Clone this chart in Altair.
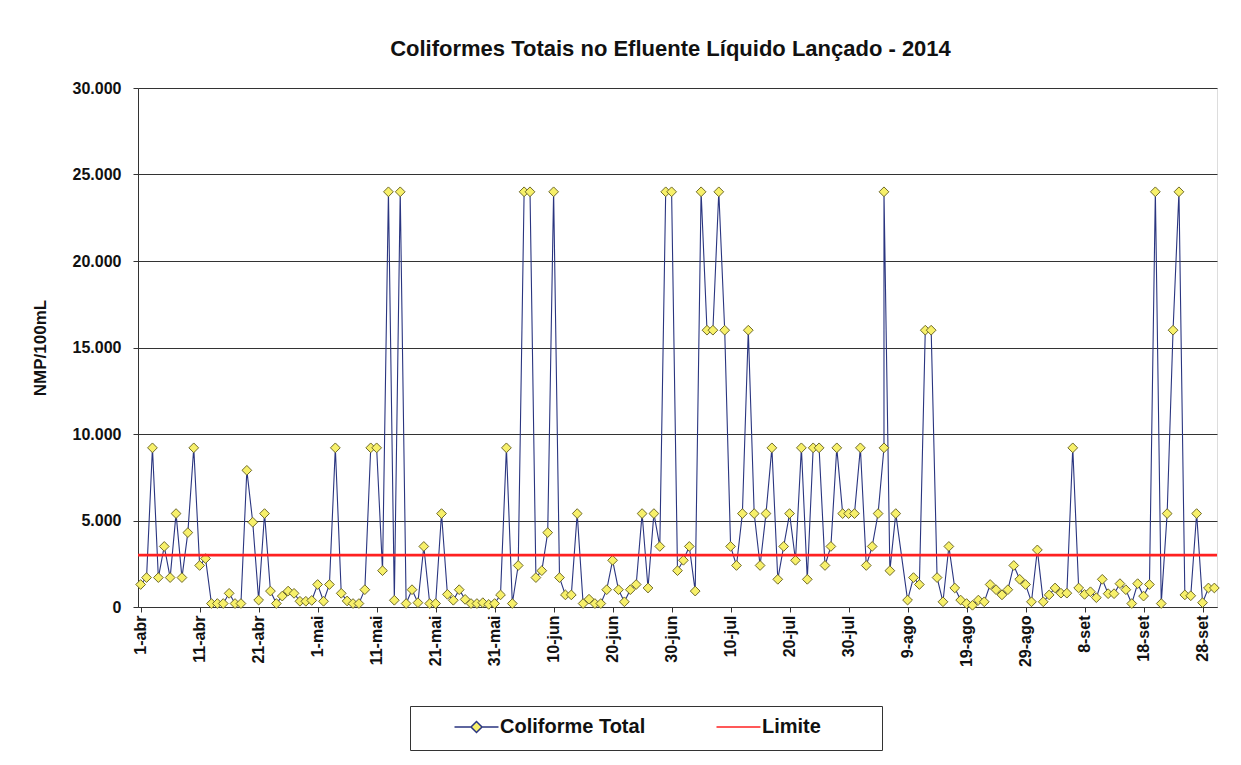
import altair as alt
import pandas as pd

# ---- dados (NMP/100mL), um valor por amostra ----
dias = list(range(1, 128)) + [127, 128, 129] + list(range(131, 184))
valores = [
    1300, 1700, 9200, 1700, 3500, 1700, 5400, 1700, 4300, 9200,
    2400, 2800, 200, 200, 200, 790, 200, 200, 7900, 4900,
    400, 5400, 920, 200, 630, 920, 790, 330, 330, 380,
    1300, 330, 1300, 9200, 790, 350, 200, 200, 1000, 9200,
    9200, 2100, 24000, 390, 24000, 200, 1000, 250, 3500, 200,
    200, 5400, 730, 390, 1000, 440, 200, 200, 250, 150,
    200, 700, 9200, 200, 2400, 24000, 24000, 1700, 2100, 4300,
    24000, 1700, 700, 700, 5400, 200, 450, 200, 200, 1000,
    2700, 1000, 300, 1000, 1300, 5400, 1100, 5400, 3500, 24000,
    24000, 2100, 2700, 3500, 920, 24000, 16000, 16000, 24000, 16000,
    3500, 2400, 5400, 16000, 5400, 2400, 5400, 9200, 1600, 3500,
    5400, 2700, 9200, 1600, 9200, 9200, 2400, 3500, 9200, 5400,
    5400, 5400, 9200, 2400, 3500, 5400,
    9200, 24000, 2100, 5400,
    400, 1700, 1300, 16000, 16000, 1700, 300, 3500, 1100, 400,
    200, 100, 400, 300, 1300, 1000, 700, 1000, 2400, 1600,
    1300, 300, 3300, 300, 700, 1100, 800, 800, 9200, 1100,
    730, 880, 540, 1600, 770, 770, 1350, 1000, 200, 1350,
    630, 1300, 24000, 200, 5400, 16000, 24000, 700, 650, 5400,
    250, 1100, 1100,
]
limite = [3000]
series = ["Coliforme Total", "Limite"]
rotulos_x = ["1-abr", "11-abr", "21-abr", "1-mai", "11-mai", "21-mai", "31-mai",
             "10-jun", "20-jun", "30-jun", "10-jul", "20-jul", "30-jul", "9-ago",
             "19-ago", "29-ago", "8-set", "18-set", "28-set"]
posicoes_x = [1, 11, 21, 31, 41, 51, 61, 71, 81, 91, 101, 111, 121, 131, 141,
              151, 161, 171, 181]
valores_y = [0, 5000, 10000, 15000, 20000, 25000, 30000]

df = pd.DataFrame({"dia": dias, "valor": valores, "ordem": list(range(len(dias)))})
df_lim = pd.DataFrame({"valor": limite})
df_leg = pd.DataFrame({"serie": series})

FONT = "Liberation Sans"
NAVY = "#2a3580"
YEL = "#f7f06a"
RED = "#ff2020"

arr = "[" + ",".join("'%s'" % s for s in rotulos_x) + "]"
x_enc = alt.X(
    "dia:Q",
    scale=alt.Scale(domain=[0.55, 183.45], nice=False, zero=False),
    axis=alt.Axis(values=posicoes_x, labelExpr=arr + "[round((datum.value-1)/10)]",
                  labelAngle=270, title=None, grid=False, tickSize=5, labelPadding=3,
                  labelFont=FONT, labelFontSize=16, labelFontWeight="bold",
                  labelColor="#111", domainColor="#333", tickColor="#333",
                  labelOverlap=False, labelFlush=False),
)
y_enc = alt.Y(
    "valor:Q",
    scale=alt.Scale(domain=[0, 30000], nice=False),
    axis=alt.Axis(values=valores_y, labelExpr="replace(format(datum.value, ','), ',', '.')",
                  title="NMP/100mL", titleFont=FONT, titleFontSize=17, titleFontWeight="bold",
                  titleColor="#111", titleX=-98, titleY=259.5, titleAngle=270,
                  titleAlign="center", titleBaseline="middle",
                  grid=True, gridColor="#333", gridWidth=1, tickSize=5, labelPadding=12,
                  labelFont=FONT, labelFontSize=16, labelFontWeight="bold",
                  labelColor="#111", domainColor="#333", tickColor="#333"),
)

linha = alt.Chart(df).mark_line(color=NAVY, strokeWidth=1.1).encode(
    x=x_enc, y=y_enc, order="ordem:Q")
pontos = alt.Chart(df).mark_point(shape="diamond", filled=True, fill=YEL, stroke="#6f6a2a",
                                  strokeWidth=1, size=95, opacity=1).encode(x=x_enc, y=y_enc)
regra = alt.Chart(df_lim).mark_rule(color=RED, strokeWidth=2.6).encode(y=alt.Y("valor:Q"))

# legend symbols (unit = 16.25 px); extra move-to points only widen the entry box
PATH_C = ("M0,-0.98M0,0.98M-1.354,0H-0.338M0.338,0H1.354"
          "M-0.338,0L0,-0.338L0.338,0L0,0.338Z")
PATH_L = "M0,-0.98M8.4,0.98M-1.354,0H1.354"

leg = alt.Legend(orient="none", legendX=272, legendY=618, direction="horizontal", columns=2,
                 title=None, symbolSize=1056, symbolStrokeWidth=1.5, symbolOffset=45.5,
                 labelOffset=6.5, columnPadding=30, padding=4, strokeColor="#333",
                 fillColor="white", cornerRadius=0, labelFont=FONT, labelFontSize=20,
                 labelFontWeight="bold", labelColor="#111", labelLimit=400, symbolOpacity=1)

legenda = alt.Chart(df_leg).transform_filter("false").mark_point(filled=True, opacity=1).encode(
    shape=alt.Shape("serie:N", scale=alt.Scale(domain=series, range=[PATH_C, PATH_L]), legend=leg),
    fill=alt.Fill("serie:N", scale=alt.Scale(domain=series, range=[YEL, RED]), legend=leg),
    stroke=alt.Stroke("serie:N", scale=alt.Scale(domain=series, range=[NAVY, RED]), legend=leg),
)

chart = alt.layer(linha, pontos, regra, legenda).properties(
    width=1079, height=519,
    title=alt.TitleParams("Coliformes Totais no Efluente Líquido Lançado - 2014", font=FONT,
                          fontSize=22, fontWeight="bold", color="#111", anchor="middle",
                          offset=2, baseline="alphabetic", dx=-7),
    autosize=alt.AutoSizeParams(type="none"),
    padding={"left": 130, "top": 80, "right": 16, "bottom": 150},
).configure_view(fill="#dbdbe7", stroke="#666").configure(background="white")

chart.save("out.html", embed_options={"renderer": "svg", "actions": False})
